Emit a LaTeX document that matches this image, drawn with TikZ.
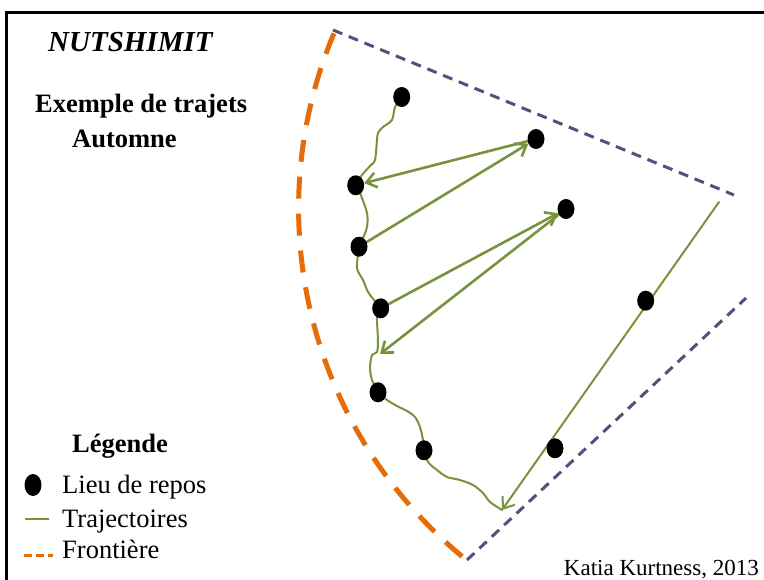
\documentclass[tikz,border=0pt]{standalone}
\usepackage{fontspec}
\setmainfont{Liberation Serif}
\usetikzlibrary{arrows.meta,shapes.geometric,backgrounds}
\definecolor{herbe}{HTML}{77933C}
\definecolor{prune}{HTML}{604A7B}
\definecolor{citrouille}{HTML}{E46C0A}

\begin{document}
\begin{tikzpicture}[x=1pt,y=-1pt,
    repos/.style={ellipse,fill=black,inner sep=0pt,minimum width=17pt,minimum height=20pt},
    trajet/.style={draw=herbe,line width=2pt,line join=round,line cap=round},
    fleche/.style={trajet,line width=2.6pt,-{Straight Barb[length=10pt,width=15pt]}},
    limite/.style={draw=prune,line width=3pt,dash pattern=on 10pt off 7pt},
    frontiere/.style={draw=citrouille,line width=5pt,dash pattern=on 22pt off 15pt},
    txt/.style={inner sep=0pt,anchor=base west,font=\fontsize{26.5}{30}\selectfont}]
  \useasboundingbox (0,0) rectangle (764,580);
  \draw[line width=3pt] (6.5,580) |- (764,12.5);

  \node[txt,font=\fontsize{29}{34}\selectfont\bfseries\itshape] (nom) at (48,52) {NUTSHIMIT};
  \node[txt,font=\fontsize{26.5}{30}\selectfont\bfseries] (titre) at (35,113) {Exemple de trajets};
  \node[txt,font=\fontsize{26.5}{30}\selectfont\bfseries] (saison) at (72,148) {Automne};

  \node[repos] (r1) at (401.7,97) {};
  \node[repos] (r2) at (536,139) {};
  \node[repos] (r3) at (355.7,185.3) {};
  \node[repos] (r4) at (566,209) {};
  \node[repos] (r5) at (359,246.7) {};
  \node[repos] (r6) at (380.7,308.3) {};
  \node[repos] (r7) at (645.7,300.7) {};
  \node[repos] (r8) at (378,392.3) {};
  \node[repos] (r9) at (424,450.3) {};
  \node[repos] (r10) at (555,448.3) {};
  \coordinate (pointe) at (380,354);
  \coordinate (depart) at (719,202);
  \coordinate (arrivee) at (502,510);
  \coordinate (centre) at (750.6,208.5);

  \begin{scope}[on background layer]
    \draw[limite] (333,30) -- (734,195);
    \draw[limite] (467,560) -- (746,298);
    \draw[frontiere] (centre) ++(157.2:452pt) arc[start angle=157.2,end angle=230.9,radius=452pt];

    \draw[trajet] plot[smooth,tension=0.5] coordinates {(r1.center) (395,107) (392,120) (383,127)
      (378,133) (377,140) (375,160) (370,166) (362,175) (r3.center)};
    \draw[trajet] plot[smooth,tension=0.5] coordinates {(r3.center) (360,193) (367,213) (367,227)
      (363,238) (r5.center)};
    \draw[trajet] plot[smooth,tension=0.5] coordinates {(r5.center) (357,268) (363,280) (368,292)
      (374,300) (r6.center)};
    \draw[trajet] plot[smooth,tension=0.5] coordinates {(r6.center) (377,317) (378,340) (377,352)
      (372,355) (370,368) (372,380) (r8.center)};
    \draw[trajet] plot[smooth,tension=0.5] coordinates {(r8.center) (387,400) (397,406) (407,411)
      (415,417) (420,427) (423,440) (r9.center)};
    \draw[trajet] plot[smooth,tension=0.5] coordinates {(r9.center) (428,462) (437,470) (447,477)
      (460,480) (473,485) (483,493) (490,502) (arrivee)};

    \draw[fleche] (r5) -- (r2);
    \draw[fleche] (r2) -- (r3);
    \draw[fleche] (r6) -- (r4);
    \draw[fleche] (r4) -- (pointe);
    \draw[fleche,line width=2pt] (depart) -- (arrivee);
  \end{scope}

  \node[txt,font=\fontsize{26.5}{30}\selectfont\bfseries] (legende) at (72,453) {Légende};
  \node[repos,minimum height=22pt] (cle) at (33,485) {};
  \node[txt] (lieu) at (62,493) {Lieu de repos};
  \draw[trajet,line cap=butt] (25,519) -- (49,519);
  \node[txt] (traj) at (62,527) {Trajectoires};
  \draw[draw=citrouille,line width=3pt,dash pattern=on 8pt off 4pt] (24,555) -- (53,555);
  \node[txt] (front) at (62,558) {Frontière};
  \node[inner sep=0pt,anchor=base east,font=\fontsize{23}{26}\selectfont] (auteur) at (759,575) {Katia Kurtness, 2013};
\end{tikzpicture}
\end{document}
